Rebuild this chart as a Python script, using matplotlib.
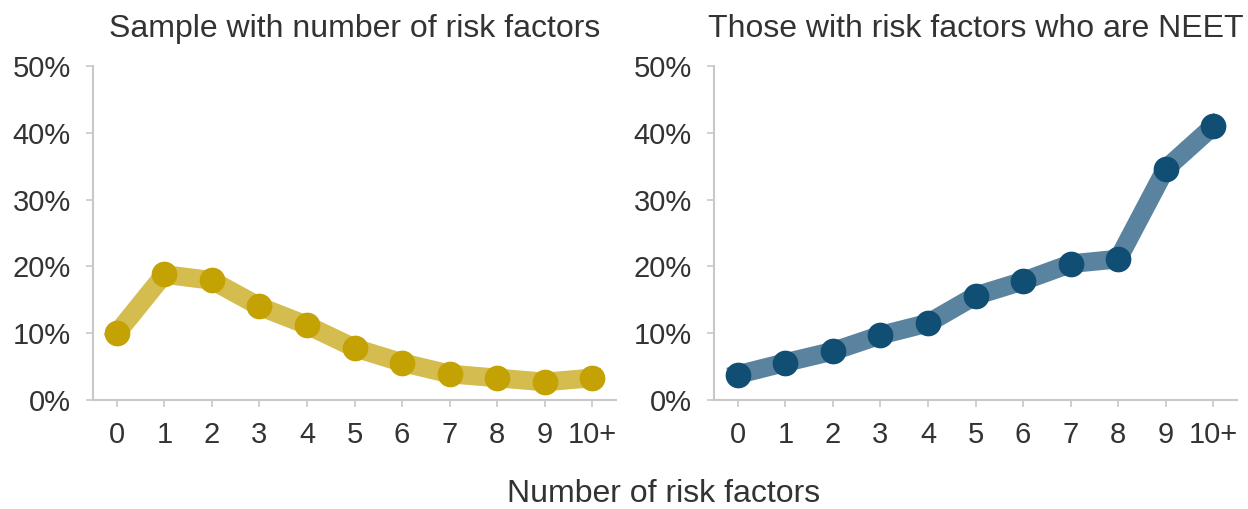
import matplotlib.pyplot as plt
from matplotlib.ticker import PercentFormatter

plt.rcParams['font.family'] = ['Liberation Sans', 'DejaVu Sans']

categories = ['0', '1', '2', '3', '4', '5', '6', '7', '8', '9', '10+']
sample_share = [10.0, 18.8, 17.9, 14.0, 11.2, 7.8, 5.6, 3.9, 3.3, 2.7, 3.3]
neet_share = [3.8, 5.6, 7.3, 9.7, 11.5, 15.6, 17.8, 20.4, 21.1, 34.6, 41.0]
titles = ['Sample with number of risk factors', 'Those with risk factors who are NEET']

series = [
    (sample_share, '#D4BD4E', '#C4A204'),
    (neet_share, '#5A839F', '#114E74'),
]

text_color = '#333333'
spine_color = '#C8C8C8'

fig = plt.figure(figsize=(12.48, 5.09), dpi=100)
ax_left = fig.add_axes([93 / 1248, 109 / 509, 523 / 1248, 334 / 509])
ax_right = fig.add_axes([714 / 1248, 109 / 509, 523 / 1248, 334 / 509])

x = list(range(len(categories)))
for ax, (vals, line_c, dot_c), title in zip([ax_left, ax_right], series, titles):
    ax.plot(x, vals, color=line_c, lw=13.5, solid_joinstyle='miter', zorder=2)
    ax.plot(x, vals, 'o', color=dot_c, ms=17.5, zorder=3)
    ax.set_xlim(-0.5, 10.5)
    ax.set_ylim(0, 50)
    ax.set_yticks([0, 10, 20, 30, 40, 50])
    ax.yaxis.set_major_formatter(PercentFormatter(decimals=0))
    ax.set_xticks(x)
    ax.set_xticklabels(categories)
    for side in ['top', 'right']:
        ax.spines[side].set_visible(False)
    for side in ['left', 'bottom']:
        ax.spines[side].set_color(spine_color)
        ax.spines[side].set_linewidth(1.5)
    ax.tick_params(axis='both', colors=spine_color, labelcolor=text_color,
                   labelsize=21, length=5, width=1.2)
    ax.tick_params(axis='x', pad=10)
    ax.tick_params(axis='y', pad=11)
    ax.set_title(title, fontsize=23, color=text_color, pad=21)

fig.text(0.532, 0.013, 'Number of risk factors', ha='center', va='baseline',
         fontsize=23, color=text_color)

fig.savefig('out.png', dpi=100)
